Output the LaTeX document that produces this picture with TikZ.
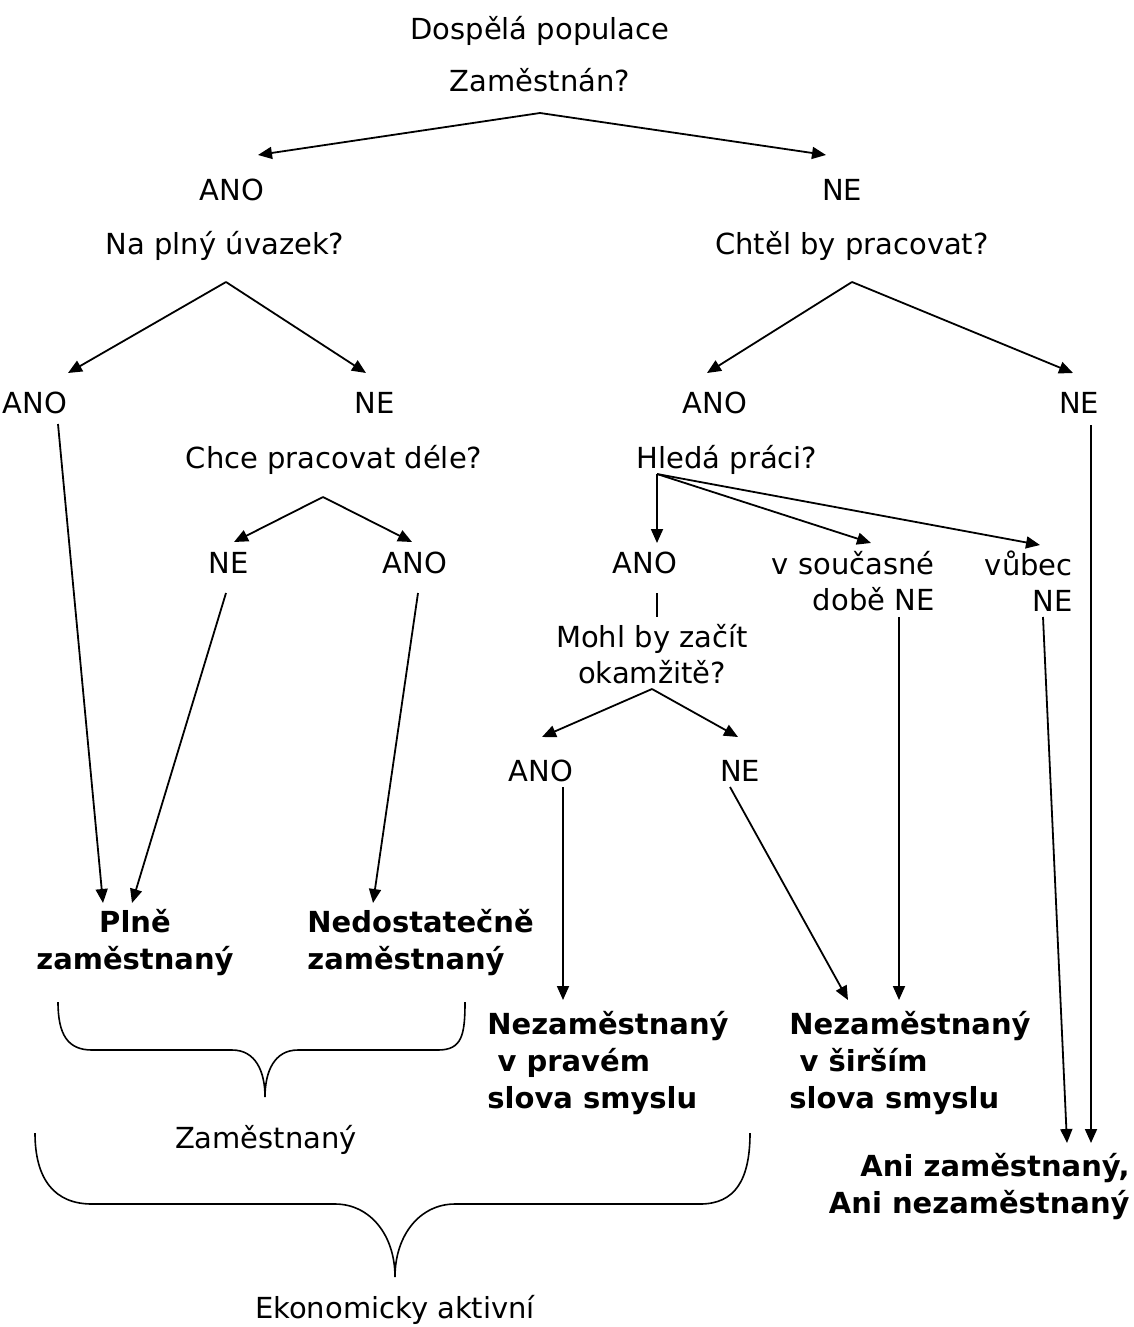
\documentclass[tikz,border=0pt]{standalone}
\usepackage{fontspec}
\setmainfont{DejaVu Sans}
\usetikzlibrary{arrows.meta}

\tikzset{
    lbl/.style={inner sep=0pt,anchor=base,font=\fontsize{14.5}{18}\selectfont},
    blk/.style={inner sep=0pt,font=\fontsize{14.5}{18}\selectfont},
    res/.style={inner sep=0pt,font=\fontsize{14.5}{18.5}\selectfont\bfseries},
    arr/.style={line width=0.9pt,-{Triangle[length=7pt,width=6pt]}},
    ln/.style={line width=0.9pt},
    brc/.style={line width=0.8pt}
}

\begin{document}
\begin{tikzpicture}[x=0.5pt,y=-0.5pt]
    \useasboundingbox (0,0) rectangle (1134,1327);

    \node[lbl] (pop) at (540,40) {Dospělá populace};
    \node[lbl] (q1) at (540,91) {Zaměstnán?};
    \node[lbl] (a1) at (232,200) {ANO};
    \node[lbl] (n1) at (842,200) {NE};
    \node[lbl] (q2) at (225,254) {Na plný úvazek?};
    \node[lbl] (q3) at (852,254) {Chtěl by pracovat?};
    \node[lbl] (a2) at (35,413) {ANO};
    \node[lbl] (n2) at (375,413) {NE};
    \node[lbl] (a3) at (715,413) {ANO};
    \node[lbl] (n3) at (1079,413) {NE};
    \node[lbl] (q4) at (334,468) {Chce pracovat déle?};
    \node[lbl] (q5) at (727,468) {Hledá práci?};
    \node[lbl] (n4) at (229,573) {NE};
    \node[lbl] (a4) at (415,573) {ANO};
    \node[lbl] (a5) at (645,573) {ANO};
    \node[blk,align=right,anchor=east] (n5) at (935,581) {v současné\\době NE};
    \node[blk,align=right,anchor=east] (n6) at (1073,581) {vůbec\\NE};
    \node[blk,align=center] (q6) at (652,654) {Mohl by začít\\okamžitě?};
    \node[lbl] (a6) at (541,781) {ANO};
    \node[lbl] (n7) at (740,781) {NE};

    \node[res,align=center] (r1) at (135,943) {Plně\\zaměstnaný};
    \node[res,align=left,anchor=west] (r2) at (307,943) {Nedostatečně\\zaměstnaný};
    \node[res,align=left,anchor=west] (r3) at (487,1063) {Nezaměstnaný\\\hspace*{0.35em}v pravém\\slova smyslu};
    \node[res,align=left,anchor=west] (r4) at (789,1063) {Nezaměstnaný\\\hspace*{0.35em}v širším\\slova smyslu};
    \node[res,align=right,anchor=east] (r5) at (1130,1187) {Ani zaměstnaný,\\Ani nezaměstnaný};
    \node[lbl] (l1) at (266,1148) {Zaměstnaný};
    \node[lbl] (l2) at (395,1318) {Ekonomicky aktivní};

    \coordinate (c1) at (540,113);
    \coordinate (t1a) at (258,155);
    \coordinate (t1b) at (826,155);
    \coordinate (c2) at (226,282);
    \coordinate (t2a) at (68,373);
    \coordinate (t2b) at (366,373);
    \coordinate (c3) at (852,282);
    \coordinate (t3a) at (707,373);
    \coordinate (t3b) at (1073,373);
    \coordinate (c4) at (323,497);
    \coordinate (t4a) at (234,542);
    \coordinate (t4b) at (412,542);
    \coordinate (c5) at (657,474);
    \coordinate (t5a) at (657,543);
    \coordinate (t5b) at (871,543);
    \coordinate (t5c) at (1040,545);
    \coordinate (c6) at (652,689);
    \coordinate (t6a) at (542,737);
    \coordinate (t6b) at (738,737);

    \coordinate (s1) at (58,424);
    \coordinate (s2) at (226,593);
    \coordinate (s3) at (418,593);
    \coordinate (s4) at (657,593);
    \coordinate (s5) at (657,617);
    \coordinate (s6) at (563,787);
    \coordinate (s7) at (730,787);
    \coordinate (s8) at (899,617);
    \coordinate (s9) at (1043,617);
    \coordinate (s10) at (1091,425);
    \coordinate (e1) at (103,903);
    \coordinate (e2) at (132,903);
    \coordinate (e3) at (373,903);
    \coordinate (e4) at (563,1000);
    \coordinate (e5) at (848,1000);
    \coordinate (e6) at (899,1000);
    \coordinate (e7) at (1067,1143);
    \coordinate (e8) at (1091,1143);

    \draw[arr] (c1) -- (t1a);
    \draw[arr] (c1) -- (t1b);
    \draw[arr] (c2) -- (t2a);
    \draw[arr] (c2) -- (t2b);
    \draw[arr] (c3) -- (t3a);
    \draw[arr] (c3) -- (t3b);
    \draw[arr] (c4) -- (t4a);
    \draw[arr] (c4) -- (t4b);
    \draw[arr] (c5) -- (t5a);
    \draw[arr] (c5) -- (t5b);
    \draw[arr] (c5) -- (t5c);
    \draw[arr] (c6) -- (t6a);
    \draw[arr] (c6) -- (t6b);

    \draw[arr] (s1) -- (e1);
    \draw[arr] (s2) -- (e2);
    \draw[arr] (s3) -- (e3);
    \draw[ln] (s4) -- (s5);
    \draw[arr] (s6) -- (e4);
    \draw[arr] (s7) -- (e5);
    \draw[arr] (s8) -- (e6);
    \draw[arr] (s9) -- (e7);
    \draw[arr] (s10) -- (e8);

    \draw[brc] (58,1002) .. controls (58,1035) and (68,1050) .. (92,1050) -- (232,1050)
        .. controls (256,1050) and (265,1072) .. (265,1097)
        .. controls (265,1072) and (274,1050) .. (298,1050) -- (438,1050)
        .. controls (462,1050) and (465,1035) .. (465,1002);
    \draw[brc] (35,1133) .. controls (35,1180) and (55,1204) .. (92,1204) -- (335,1204)
        .. controls (370,1204) and (395,1235) .. (395,1277)
        .. controls (395,1235) and (420,1204) .. (455,1204) -- (700,1204)
        .. controls (735,1204) and (750,1180) .. (750,1133);
\end{tikzpicture}
\end{document}
